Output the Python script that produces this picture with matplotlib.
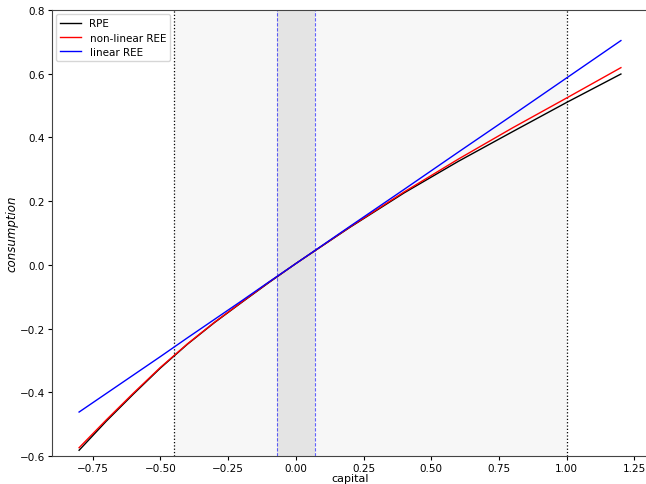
import matplotlib
matplotlib.use("Agg")
import matplotlib.pyplot as plt

# ── datos ─────────────────────────────────────────────────────────────────
capital = [-0.8, -0.7, -0.6, -0.5, -0.4, -0.3, -0.2, -0.1, 0.0,
           0.2, 0.4, 0.6, 0.8, 1.0, 1.2]
rpe = [-0.582, -0.491, -0.406, -0.324, -0.249, -0.181, -0.118, -0.056, 0.004,
       0.118, 0.226, 0.325, 0.418, 0.510, 0.599]
ree_nolineal = [-0.574, -0.487, -0.403, -0.322, -0.248, -0.180, -0.117, -0.055, 0.004,
                0.119, 0.229, 0.332, 0.430, 0.524, 0.619]
ree_lineal = [-0.462, -0.404, -0.346, -0.288, -0.229, -0.171, -0.113, -0.054, 0.004,
              0.121, 0.237, 0.354, 0.470, 0.587, 0.704]

region_amplia = (-0.45, 1.0)
region_estrecha = (-0.07, 0.07)

fig = plt.figure(figsize=(6.46, 4.85), dpi=100)
ax = fig.add_axes([52 / 646, 28 / 485, 596 / 646, 446 / 485])

# regiones sombreadas
ax.axvspan(*region_amplia, color="#f7f7f7", zorder=0, lw=0)
ax.axvspan(*region_estrecha, color="#e4e4e4", zorder=0.5, lw=0)
for x in region_amplia:
    ax.axvline(x, color="black", ls=":", lw=0.9, zorder=1)
for x in region_estrecha:
    ax.axvline(x, color="blue", alpha=0.6, ls="--", lw=0.8, dashes=(3, 1.5), zorder=1)

ax.plot(capital, rpe, color="black", lw=1.0, label="RPE", zorder=3)
ax.plot(capital, ree_nolineal, color="red", lw=1.0, label="non-linear REE", zorder=3)
ax.plot(capital, ree_lineal, color="blue", lw=1.0, label="linear REE", zorder=3)

ax.set_ylim(-0.6, 0.8)
ax.set_xlabel("capital", fontsize=8)
ax.xaxis.set_label_coords(0.5, -0.037)
ax.set_ylabel("consumption", fontsize=8.5, style="italic", labelpad=1)
ax.tick_params(labelsize=7.5, length=3, pad=2)
for s in ax.spines.values():
    s.set_color("#444444")
ax.legend(loc="upper left", fontsize=7.5, handlelength=2.0, labelspacing=0.4,
          borderaxespad=0.4)

fig.savefig("out.png", dpi=100)
plt.close()
